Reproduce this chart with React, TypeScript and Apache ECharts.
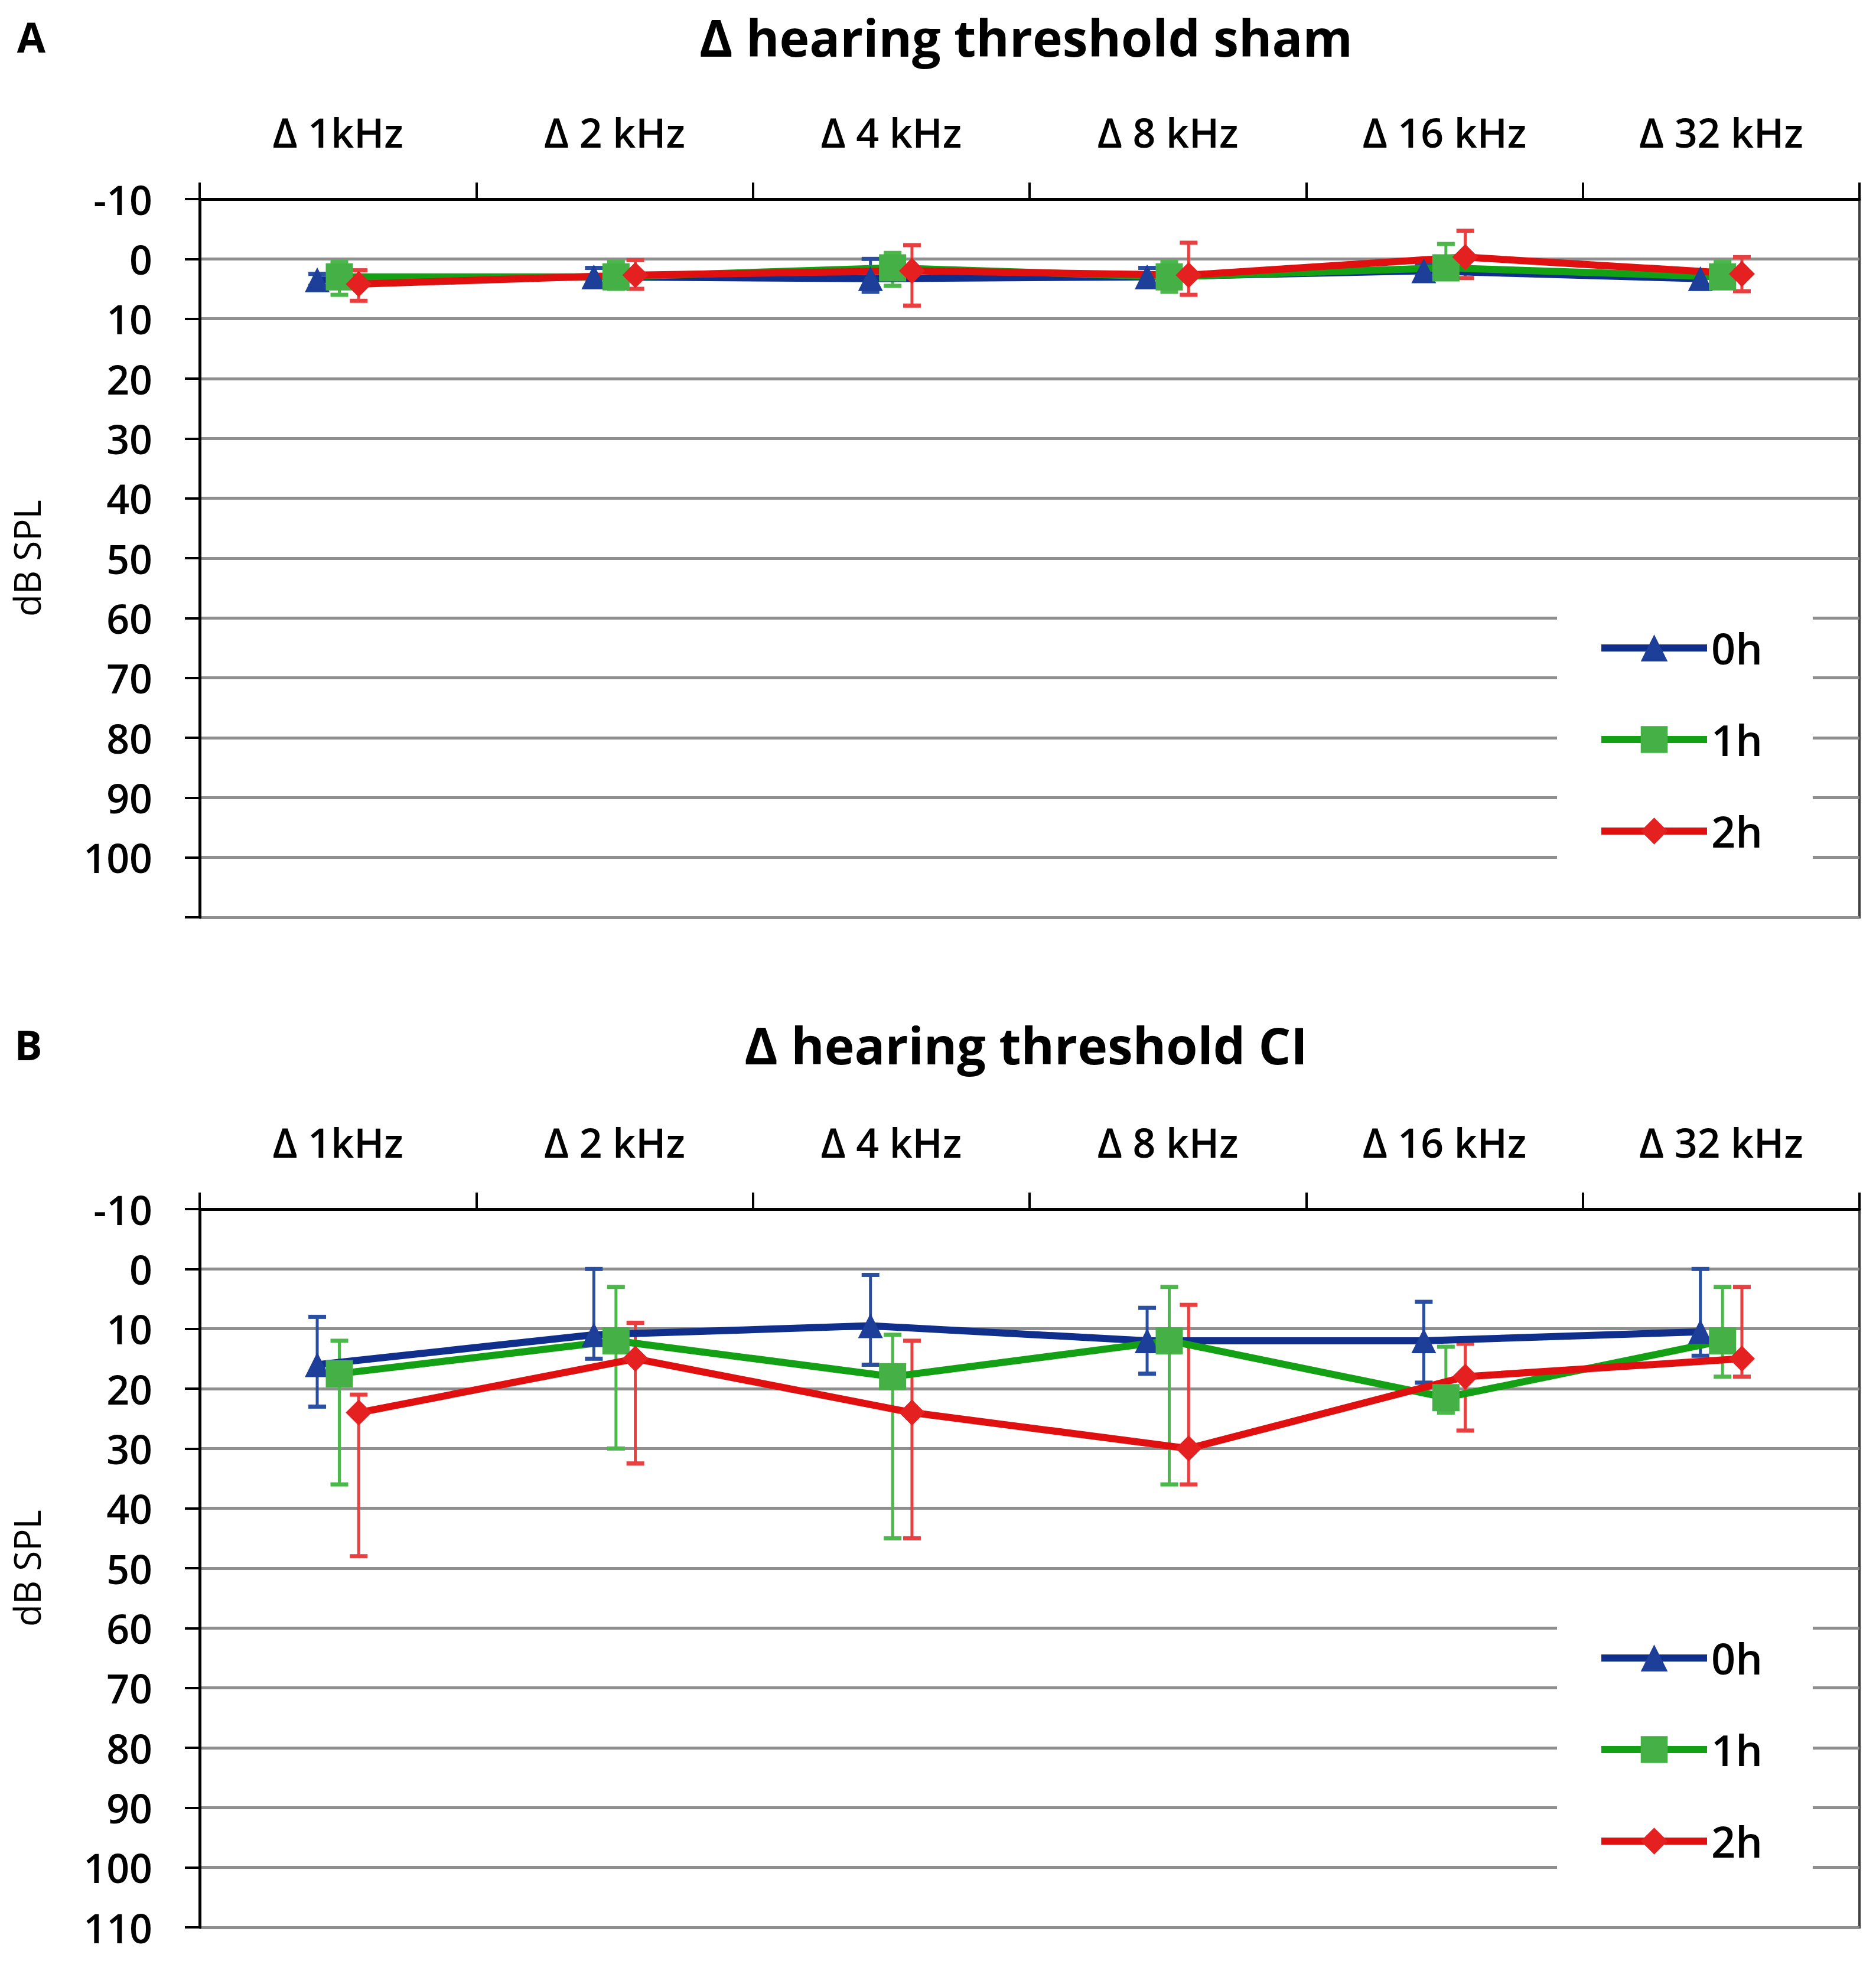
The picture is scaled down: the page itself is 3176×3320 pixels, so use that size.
import React, { useEffect, useRef } from "react";
import * as echarts from "echarts";

// ---------- data ----------
const categories = ["Δ 1kHz", "Δ 2 kHz", "Δ 4 kHz", "Δ 8 kHz", "Δ 16 kHz", "Δ 32 kHz"];
const seriesNames = ["0h", "1h", "2h"];

// Panel A: sham
const sham0hMean = [3.5, 3, 3.3, 3, 2, 3.3];
const sham0hLow = [2.5, 1.5, 0, 1.5, 1, 2];
const sham0hHigh = [4.5, 4.5, 5.5, 4.5, 3, 4.5];
const sham1hMean = [3, 3, 1.5, 3, 1.5, 3];
const sham1hLow = [0.5, 0.5, -1, 0.5, -2.5, 0.5];
const sham1hHigh = [6, 5, 4.5, 5.5, 3, 4.5];
const sham2hMean = [4.2, 2.7, 2, 2.7, -0.3, 2.5];
const sham2hLow = [1.9, 0.2, -2.3, -2.7, -4.7, -0.3];
const sham2hHigh = [7, 5, 7.8, 6, 3.2, 5.4];

// Panel B: CI
const ci0hMean = [16, 11, 9.5, 12, 12, 10.5];
const ci0hLow = [8, 0, 1, 6.5, 5.5, 0];
const ci0hHigh = [23, 15, 16, 17.5, 19, 14.5];
const ci1hMean = [17.5, 12, 18, 12, 21.5, 12];
const ci1hLow = [12, 3, 11, 3, 13, 3];
const ci1hHigh = [36, 30, 45, 36, 24, 18];
const ci2hMean = [24, 15, 24, 30, 18, 15];
const ci2hLow = [21, 9, 12, 6, 12.5, 3];
const ci2hHigh = [48, 32.5, 45, 36, 27, 18];

const panelTitles = ["Δ hearing threshold sham", "Δ hearing threshold CI"];
const panelLetters = ["A", "B"];

// ---------- styling ----------
const FONT = "'Open Sans', 'Noto Sans', sans-serif";
const lineColors = ["#102f8c", "#14a014", "#e01010"];
const markerColors = ["#1d3f9a", "#45b045", "#e52020"];
const errColors = ["#2a4ea0", "#4cb84c", "#e84040"];
const symbols = ["triangle", "rect", "diamond"];
const symbolSizes = [42, 46, 44];
const offsets = [-0.075, 0.005, 0.075];

const GRID_LEFT = 338;
const GRID_WIDTH = 2810;
const GRID_HEIGHT = 1216;
const GRID_TOPS = [337, 2047];
const TITLE_Y = [62, 1768];

const panels = [
  {
    means: [sham0hMean, sham1hMean, sham2hMean],
    lows: [sham0hLow, sham1hLow, sham2hLow],
    highs: [sham0hHigh, sham1hHigh, sham2hHigh],
    hideMax: true,
  },
  {
    means: [ci0hMean, ci1hMean, ci2hMean],
    lows: [ci0hLow, ci1hLow, ci2hLow],
    highs: [ci0hHigh, ci1hHigh, ci2hHigh],
    hideMax: false,
  },
];

function errRender(params: any, api: any) {
  const x = api.value(0);
  const lo = api.value(1);
  const hi = api.value(2);
  const pLo = api.coord([x, lo]);
  const pHi = api.coord([x, hi]);
  const color = api.visual("color");
  const cap = 15;
  return {
    type: "group",
    children: [
      { type: "line", shape: { x1: pLo[0], y1: pLo[1], x2: pHi[0], y2: pHi[1] }, style: { stroke: color, lineWidth: 5 } },
      { type: "line", shape: { x1: pLo[0] - cap, y1: pLo[1], x2: pLo[0] + cap, y2: pLo[1] }, style: { stroke: color, lineWidth: 7 } },
      { type: "line", shape: { x1: pHi[0] - cap, y1: pHi[1], x2: pHi[0] + cap, y2: pHi[1] }, style: { stroke: color, lineWidth: 7 } },
    ],
  };
}

function buildOption() {
  const grid: any[] = [];
  const xAxis: any[] = [];
  const yAxis: any[] = [];
  const series: any[] = [];
  const legend: any[] = [];
  const graphic: any[] = [];

  panels.forEach((panel, p) => {
    const top = GRID_TOPS[p];
    grid.push({
      left: GRID_LEFT,
      top,
      width: GRID_WIDTH,
      height: GRID_HEIGHT,
      show: true,
      borderColor: "#404040",
      borderWidth: 4,
      backgroundColor: "transparent",
    });
    xAxis.push({
      type: "category",
      gridIndex: p,
      position: "top",
      data: categories,
      boundaryGap: true,
      axisLine: { show: true, onZero: false, lineStyle: { color: "#000", width: 5 } },
      axisTick: { show: true, length: 28, lineStyle: { color: "#000", width: 4 } },
      axisLabel: { margin: 80, fontSize: 68, fontWeight: 600, fontFamily: FONT, color: "#000" },
      splitLine: { show: false },
    });
    xAxis.push({ type: "value", gridIndex: p, min: 0, max: 6, show: false });
    yAxis.push({
      type: "value",
      gridIndex: p,
      inverse: true,
      min: -10,
      max: 110,
      interval: 10,
      axisLine: { show: true, onZero: false, lineStyle: { color: "#000", width: 5 } },
      axisTick: { show: true, length: 25, lineStyle: { color: "#000", width: 4 } },
      axisLabel: {
        margin: 80,
        fontSize: 68,
        fontWeight: 600,
        fontFamily: FONT,
        color: "#000",
        showMinLabel: true,
        showMaxLabel: true,
        formatter: (v: number) => (panel.hideMax && v === 110 ? "" : String(v)),
      },
      splitLine: { show: true, lineStyle: { color: "#8f8f8f", width: 5 } },
      name: "dB SPL",
      nameLocation: "middle",
      nameRotate: 90,
      nameGap: 262,
      nameTextStyle: { fontSize: 62, fontFamily: FONT, color: "#000" },
    });

    for (let s = 0; s < 3; s++) {
      const mean = panel.means[s];
      const low = panel.lows[s];
      const high = panel.highs[s];
      series.push({
        name: seriesNames[s] + " error",
        type: "custom",
        xAxisIndex: p * 2 + 1,
        yAxisIndex: p,
        silent: true,
        itemStyle: { color: errColors[s] },
        encode: { x: 0, y: [1, 2] },
        data: mean.map((_, i) => [i + 0.5 + offsets[s], low[i], high[i]]),
        renderItem: errRender,
      });
      series.push({
        name: seriesNames[s],
        type: "line",
        xAxisIndex: p * 2 + 1,
        yAxisIndex: p,
        color: lineColors[s],
        symbol: symbols[s],
        symbolSize: symbolSizes[s],
        showSymbol: true,
        lineStyle: { color: lineColors[s], width: 12 },
        itemStyle: { color: markerColors[s] },
        data: mean.map((v, i) => [i + 0.5 + offsets[s], v]),
      });
    }

    legend.push({
      data: seriesNames,
      orient: "vertical",
      left: 2636,
      top: top + 664,
      itemWidth: 179,
      itemHeight: 57,
      itemGap: 83,
      selectedMode: false,
      backgroundColor: "#ffffff",
      padding: [60, 85, 60, 69],
      lineStyle: { width: 12 },
      textStyle: { fontSize: 72, fontWeight: 600, fontFamily: FONT, color: "#000", padding: [0, 0, 0, 2] },
    });

    graphic.push({
      type: "text",
      x: GRID_LEFT + GRID_WIDTH / 2 - 6,
      y: TITLE_Y[p],
      style: {
        text: panelTitles[p],
        fontSize: 86,
        fontWeight: "bold",
        fontFamily: FONT,
        fill: "#000",
        align: "center",
        verticalAlign: "middle",
        textAlign: "center",
        textVerticalAlign: "middle",
      },
    });
    graphic.push({
      type: "text",
      x: p === 0 ? 53 : 48,
      y: TITLE_Y[p],
      style: {
        text: panelLetters[p],
        fontSize: 70,
        fontWeight: "bold",
        fontFamily: FONT,
        fill: "#000",
        align: "center",
        verticalAlign: "middle",
        textAlign: "center",
        textVerticalAlign: "middle",
      },
    });
  });

  return {
    animation: false,
    backgroundColor: "#ffffff",
    grid,
    xAxis,
    yAxis,
    series,
    legend,
    graphic,
  };
}

export default function App() {
  const ref = useRef<HTMLDivElement>(null);
  useEffect(() => {
    if (!ref.current) return;
    const chart = echarts.init(ref.current, undefined, { renderer: "svg" });
    chart.setOption(buildOption() as any);
    return () => chart.dispose();
  }, []);
  return (
    <div
      ref={ref}
      style={{ position: "absolute", left: 0, top: 0, width: 3176, height: 3320, background: "#fff" }}
    />
  );
}
